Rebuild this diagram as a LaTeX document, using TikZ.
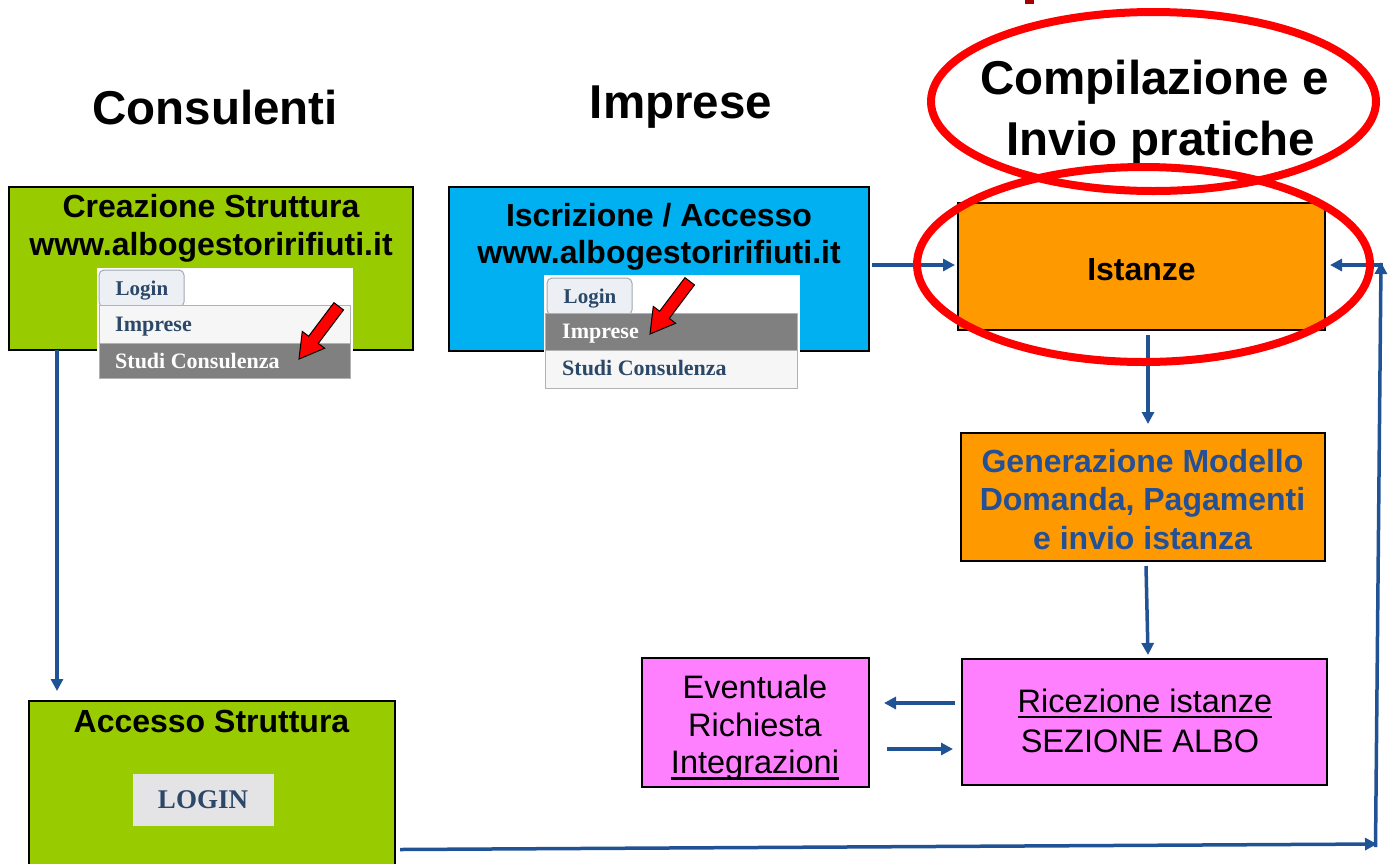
\documentclass[tikz,border=0pt]{standalone}
\usepackage{fontspec}
\setmainfont{Liberation Sans}
\newfontfamily\menufont{Liberation Serif}
\usetikzlibrary{arrows.meta,calc}
\definecolor{cgreen}{HTML}{99CC00}
\definecolor{cblue}{HTML}{00B0F0}
\definecolor{corange}{HTML}{FF9900}
\definecolor{cpink}{HTML}{FF80FF}
\definecolor{lineblue}{RGB}{31,83,150}
\definecolor{gentext}{RGB}{35,80,150}
\definecolor{menutext}{RGB}{44,72,104}
\definecolor{rowgrey}{RGB}{128,128,128}
\definecolor{rowlight}{RGB}{246,246,246}
\definecolor{tabfill}{RGB}{236,240,245}
\definecolor{tabborder}{RGB}{160,168,178}
\definecolor{darkred}{RGB}{165,0,0}
\definecolor{btnfill}{RGB}{228,228,230}
\newcommand\myul[1]{\setbox0\hbox{#1}\rlap{\vrule height -3.5pt depth 6pt width \wd0}\box0}
\tikzset{
 box/.style={draw=black, line width=1.5pt, inner sep=0pt, outer sep=0pt},
 ttl/.style={font=\bfseries\fontsize{47.5}{57}\selectfont, inner sep=0pt, anchor=base},
 btxt/.style={font=\bfseries\fontsize{32}{38.5}\selectfont, inner sep=0pt, anchor=base},
 rtxt/.style={font=\fontsize{32.5}{38.5}\selectfont, inner sep=0pt, anchor=base},
 mtxt/.style={font=\menufont\bfseries\fontsize{22}{26}\selectfont, inner sep=0pt, anchor=base west, text=menutext},
 tabbox/.style={draw=tabborder, fill=tabfill, line width=1pt, rounded corners=5pt, inner sep=0pt},
 rowbox/.style={draw=black!30, line width=0.8pt, inner sep=0pt},
 arr/.style={draw=lineblue, line width=3.5pt, -{Triangle[length=12pt,width=12pt]}},
 ring/.style={draw=red, line width=8pt},
 redarr/.pic={\draw[black, line width=1pt, fill=red, line join=miter] (0,0) -- (-24,-14) -- (-24,-6) -- (-66,-6) -- (-66,6) -- (-24,6) -- (-24,14) -- cycle;}
}
\begin{document}
\begin{tikzpicture}[x=1pt,y=-1pt]
\useasboundingbox (0,0) rectangle (1391,863);
\fill[white] (0,0) rectangle (1391,863);
\fill[darkred] (1025,0) rectangle (1034,4);

% boxes
\node[box, fill=cgreen, minimum width=404pt, minimum height=163pt] (crea) at (211,268.5) {};
\node[box, fill=cblue, minimum width=420pt, minimum height=164pt] (isc) at (659,269) {};
\node[box, fill=corange, minimum width=367pt, minimum height=127pt] (ist) at (1141.5,266.5) {};
\node[box, fill=corange, minimum width=364pt, minimum height=128pt] (gen) at (1143,497) {};
\node[box, fill=cpink, minimum width=365pt, minimum height=126pt] (ric) at (1144.5,722) {};
\node[box, fill=cpink, minimum width=227pt, minimum height=129pt] (eve) at (755.5,722.5) {};
\node[box, fill=cgreen, minimum width=366pt, minimum height=189pt] (acc) at (212,795.5) {};

% titles
\node[ttl] (tCons) at (215,124) {Consulenti};
\node[ttl] (tImp) at (681,118) {Imprese};
\node[ttl] (tComp1) at (1154.5,94) {Compilazione e};
\node[ttl] (tComp2) at (1161,155) {Invio pratiche};

% box texts
\node[btxt] (tCrea1) at (211,217) {Creazione Struttura};
\node[btxt] (tCrea2) at (211,255) {www.albogestoririfiuti.it};
\node[btxt] (tIsc1) at (659,226) {Iscrizione / Accesso};
\node[btxt] (tIsc2) at (659,263) {www.albogestoririfiuti.it};
\node[btxt] (tIst) at (1141.5,280) {Istanze};
\node[btxt, text=gentext] (tGen1) at (1142.5,472) {Generazione Modello};
\node[btxt, text=gentext] (tGen2) at (1142.5,510) {Domanda, Pagamenti};
\node[btxt, text=gentext] (tGen3) at (1142.5,549) {e invio istanza};
\node[rtxt] (tRic1) at (1145,712) {\myul{Ricezione istanze}};
\node[rtxt] (tRic2) at (1140,752) {SEZIONE ALBO};
\node[rtxt] (tEve1) at (755,698) {Eventuale};
\node[rtxt] (tEve2) at (755,736) {Richiesta};
\node[rtxt] (tEve3) at (755,773.5) {\myul{Integrazioni}};
\node[btxt] (tAcc) at (211.5,732) {Accesso Struttura};
\node[fill=btnfill, inner sep=0pt, minimum width=141pt, minimum height=52pt] (login) at (203.5,800) {};
\node[font=\menufont\bfseries\fontsize{27}{30}\selectfont, text=menutext, anchor=base, inner sep=0pt] (tLogin) at (203,808) {LOGIN};

% menu 1
\node[fill=white, inner sep=0pt, minimum width=256pt, minimum height=112pt] (m1bg) at (225,324) {};
\node[tabbox, minimum width=85pt, minimum height=37pt] (m1tab) at (141.5,288.5) {};
\node[rowbox, fill=rowlight, minimum width=251pt, minimum height=38pt] (m1r1) at (224.5,324) {};
\node[rowbox, fill=rowgrey, minimum width=251pt, minimum height=35pt] (m1r2) at (224.5,360.5) {};
\node[mtxt, anchor=base, font=\menufont\bfseries\fontsize{21}{25}\selectfont] (m1t0) at (142,295) {Login};
\node[mtxt] (m1t1) at (115,331) {Imprese};
\node[mtxt, text=white] (m1t2) at (115,368) {Studi Consulenza};

% menu 2
\node[fill=white, inner sep=0pt, minimum width=256pt, minimum height=115pt] (m2bg) at (672,332.5) {};
\node[tabbox, minimum width=85pt, minimum height=37pt] (m2tab) at (589.5,296.5) {};
\node[rowbox, fill=rowgrey, minimum width=252pt, minimum height=37pt] (m2r1) at (671,331.5) {};
\node[rowbox, fill=rowlight, minimum width=252pt, minimum height=38pt] (m2r2) at (671,369) {};
\node[mtxt, anchor=base, font=\menufont\bfseries\fontsize{21}{25}\selectfont] (m2t0) at (590,303) {Login};
\node[mtxt, text=white] (m2t1) at (562,338) {Imprese};
\node[mtxt] (m2t2) at (562,375) {Studi Consulenza};

% red pointer arrows
\pic[rotate=233] at (299,359) {redarr};
\pic[rotate=233] at (650,334) {redarr};

% connectors
\coordinate (c1) at (1377,844);
\coordinate (c2) at (1381,262);
\draw[arr] ([shift={(48,0)}]crea.south west) -- ([shift={(28,-10)}]acc.north west);
\draw[arr] ([shift={(3,-4)}]isc.east) -- ([shift={(-3,-1.5)}]ist.west);
\draw[arr] ([shift={(6.5,5)}]ist.south) -- ([shift={(5,-9)}]gen.north);
\draw[arr] ([shift={(3,5)}]gen.south) -- ([shift={(3.5,-4)}]ric.north);
\draw[arr] ([shift={(-7,-19)}]ric.west) -- ([shift={(15,-19.5)}]eve.east);
\draw[arr] ([shift={(18,26.5)}]eve.east) -- ([shift={(-9,27)}]ric.west);
\draw[arr] ([shift={(5,54)}]acc.east) -- (c1);
\draw[arr] ([shift={(-1.5,3)}]c1) -- (c2);
\draw[arr] ([shift={(2,3)}]c2) -- ([shift={(5,-1.5)}]ist.east);

% red rings
\draw[ring] (1143.5,264.5) ellipse [x radius=226.5pt, y radius=97.5pt];
\draw[ring] (1153.5,101.5) ellipse [x radius=222.5pt, y radius=89.5pt];
\end{tikzpicture}
\end{document}
